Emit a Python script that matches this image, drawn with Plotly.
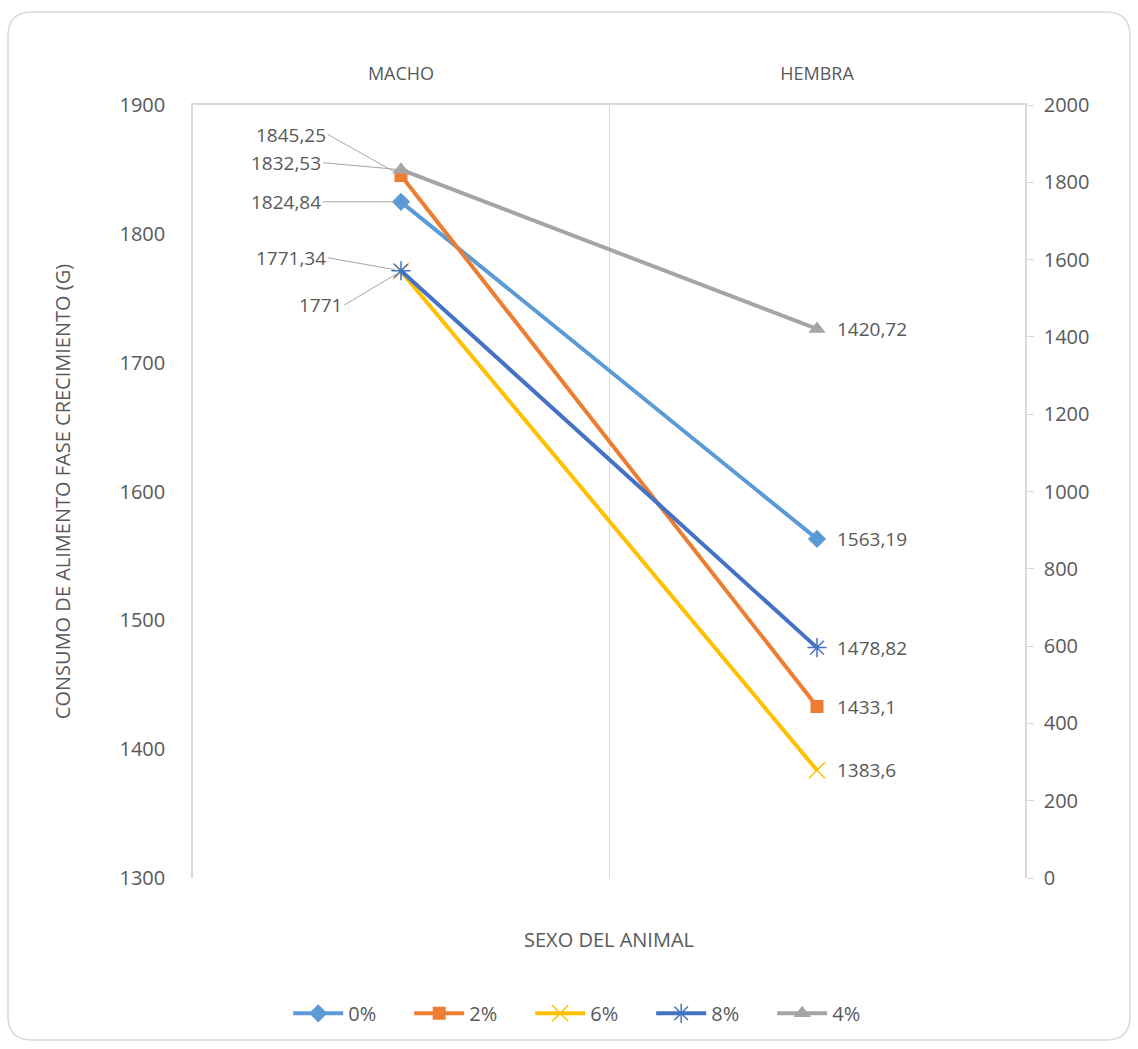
import plotly.graph_objects as go

categories = ["MACHO", "HEMBRA"]
series_names = ["0%", "2%", "6%", "8%", "4%"]
v0 = [1824.84, 1563.19]
v2 = [1845.25, 1433.1]
v6 = [1771.0, 1383.6]
v8 = [1771.34, 1478.82]
v4 = [1832.53, 1420.72]  # secondary axis
label_text = {
    "0%": ["1824,84", "1563,19"],
    "2%": ["1845,25", "1433,1"],
    "6%": ["1771", "1383,6"],
    "8%": ["1771,34", "1478,82"],
    "4%": ["1832,53", "1420,72"],
}

colors = {"0%": "#5B9BD5", "2%": "#ED7D31", "6%": "#FFC000", "8%": "#4472C4", "4%": "#A5A5A5"}
markers = {
    "0%": dict(symbol="diamond", size=14),
    "2%": dict(symbol="square", size=13),
    "6%": dict(symbol="x-thin-open", size=16, line=dict(width=1.5, color=colors["6%"])),
    "8%": dict(symbol="asterisk-open", size=16, line=dict(width=1.5, color=colors["8%"])),
    "4%": dict(symbol="triangle-up", size=15),
}
values = {"0%": v0, "2%": v2, "6%": v6, "8%": v8, "4%": v4}
axis_of = {"0%": "y", "2%": "y", "6%": "y", "8%": "y", "4%": "y2"}

# label offsets at MACHO (pixels), style only
macho_offsets = {"2%": (-73, -41), "4%": (-78, -7), "0%": (-78, 0), "8%": (-73, -13), "6%": (-57, 34)}

TXT = "#595959"
FONT = "Open Sans"

fig = go.Figure()
for name in series_names:
    m = dict(color=colors[name], **markers[name])
    fig.add_trace(go.Scatter(
        x=categories, y=values[name], name=name, mode="lines+markers",
        line=dict(color=colors[name], width=4), marker=m, yaxis=axis_of[name],
    ))

annotations = []
for name in series_names:
    yref = axis_of[name]
    ax, ay = macho_offsets[name]
    annotations.append(dict(
        x=categories[0], y=values[name][0], xref="x", yref=yref,
        text=label_text[name][0], showarrow=True, arrowhead=0, arrowwidth=1,
        arrowcolor="#A6A6A6", ax=ax, ay=ay, standoff=6,
        font=dict(family=FONT, size=19, color=TXT), xanchor="right",
    ))
    annotations.append(dict(
        x=categories[1], y=values[name][1], xref="x", yref=yref,
        text=label_text[name][1], showarrow=False, xanchor="left", xshift=18,
        font=dict(family=FONT, size=19, color=TXT),
    ))

annotations.append(dict(
    x=0.5, y=-0.08, xref="paper", yref="paper", text="SEXO DEL ANIMAL",
    showarrow=False, xanchor="center", yanchor="middle",
    font=dict(family=FONT, size=20, color=TXT),
))

# rounded chart border in paper coords
L, T, W, H = 193, 105, 832, 773
def px(xp): return (xp - L) / W
def py(yp): return (T + H - yp) / H
x0, x1, y0, y1, r = 8, 1130, 12, 1040, 24
path = (f"M {px(x0+r)},{py(y0)} L {px(x1-r)},{py(y0)} Q {px(x1)},{py(y0)} {px(x1)},{py(y0+r)} "
        f"L {px(x1)},{py(y1-r)} Q {px(x1)},{py(y1)} {px(x1-r)},{py(y1)} "
        f"L {px(x0+r)},{py(y1)} Q {px(x0)},{py(y1)} {px(x0)},{py(y1-r)} "
        f"L {px(x0)},{py(y0+r)} Q {px(x0)},{py(y0)} {px(x0+r)},{py(y0)} Z")

fig.update_layout(
    width=1138, height=1049,
    margin=dict(l=L, r=1138 - L - W, t=T, b=1049 - T - H),
    paper_bgcolor="white", plot_bgcolor="white",
    font=dict(family=FONT, color=TXT),
    showlegend=True,
    legend=dict(orientation="h", x=0.478, xanchor="center", y=-0.175, yanchor="middle",
                font=dict(family=FONT, size=20, color=TXT), traceorder="normal",
                itemwidth=50, entrywidth=56, entrywidthmode="pixels"),
    annotations=annotations,
    shapes=[dict(type="path", path=path, xref="paper", yref="paper",
                 line=dict(color="#D9D9D9", width=1.5), layer="below")],
    xaxis=dict(
        type="category", range=[-0.5, 1.5], side="top", tickson="boundaries",
        showgrid=True, gridcolor="#D9D9D9", gridwidth=1,
        showline=True, linecolor="#D9D9D9", linewidth=1.5, ticks="",
        ticklabelstandoff=16, tickfont=dict(family=FONT, size=18, color=TXT),
        zeroline=False,
    ),
    yaxis=dict(
        range=[1300, 1900], dtick=100, showgrid=False, zeroline=False,
        showline=True, linecolor="#D9D9D9", linewidth=1.5, ticks="",
        ticklabelstandoff=22, tickfont=dict(family=FONT, size=20, color=TXT),
        title=dict(text="CONSUMO DE ALIMENTO FASE CRECIMIENTO (G)", standoff=44,
                   font=dict(family=FONT, size=20, color=TXT)),
    ),
    yaxis2=dict(
        range=[0, 2000], dtick=200, overlaying="y", side="right",
        showgrid=False, zeroline=False, showline=True, linecolor="#D9D9D9", linewidth=1.5,
        ticks="outside", ticklen=7, tickcolor="#D9D9D9",
        ticklabelstandoff=6, tickfont=dict(family=FONT, size=20, color=TXT),
    ),
)

fig.write_html("out.html")
